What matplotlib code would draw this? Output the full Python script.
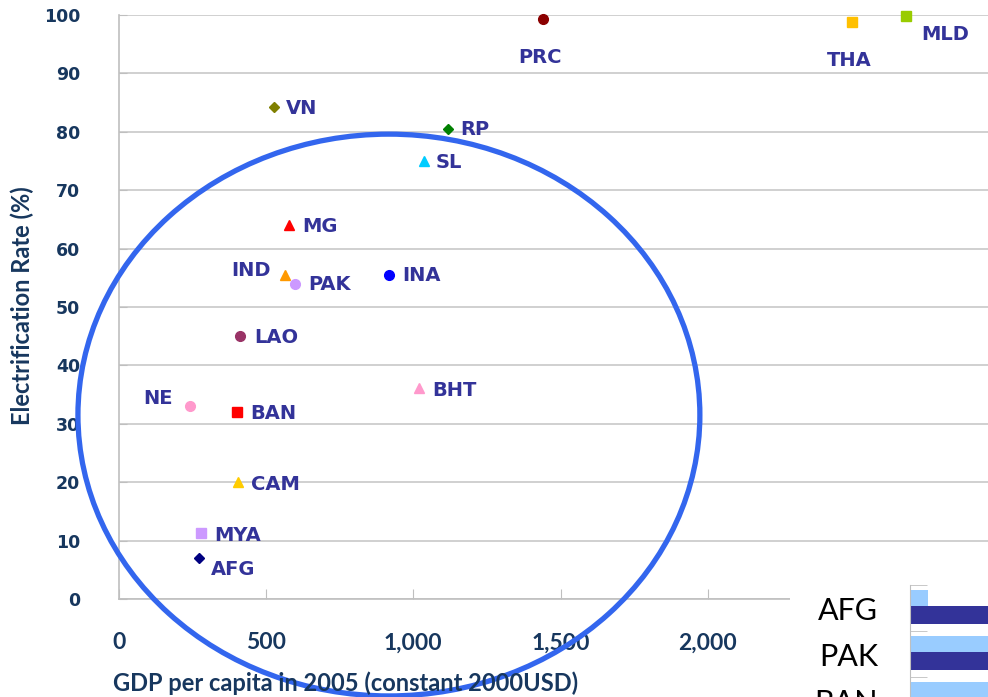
import numpy as np
import matplotlib
matplotlib.use('Agg')
import matplotlib.pyplot as plt
from matplotlib.patches import Ellipse, Rectangle

# data
countries = ['PRC', 'THA', 'MLD', 'VN', 'RP', 'SL', 'MG', 'IND', 'PAK', 'INA',
             'LAO', 'BHT', 'NE', 'BAN', 'CAM', 'MYA', 'AFG']
gdp = [1440, 2490, 2673, 526, 1117, 1036, 577, 564, 598, 917,
       411, 1019, 241, 401, 404, 279, 272]
elec = [99.3, 98.8, 99.8, 84.2, 80.5, 75.0, 64.0, 55.5, 54.0, 55.5,
        45.0, 36.1, 33.0, 32.0, 20.0, 11.3, 7.0]

xtick_vals = [0, 500, 1000, 1500, 2000]
xtick_labels = ['0', '500', '1,000', '1,500', '2,000']

inset_cats = ['AFG', 'PAK', 'BAN']
inset_light = [7, 54, 32]
inset_dark = [45, 50, 42]

# styles
markers = ['o', 's', 's', 'D', 'D', '^', '^', '^', 'o', 'o',
           'o', '^', 'o', 's', '^', 's', 'D']
colors = ['#8B0000', '#FFC000', '#99CC00', '#808000', '#008000', '#00CCFF', '#FF0000',
          '#FF9900', '#CC99FF', '#0000FF', '#993366', '#FF99CC', '#FF99CC', '#FF0000',
          '#FFCC00', '#CC99FF', '#000080']
# label offsets in pixels (dx right, dy down) and alignment
offsets = {'PRC': (-3, 38, 'center'), 'THA': (-3, 38, 'center'), 'MLD': (15, 18, 'left'),
           'VN': (12, 1, 'left'), 'RP': (12, 1, 'left'), 'SL': (12, 2, 'left'),
           'MG': (13, 1, 'left'), 'IND': (-14, -4, 'right'), 'PAK': (13, 1, 'left'),
           'INA': (13, 1, 'left'), 'LAO': (14, 1, 'left'), 'BHT': (13, 2, 'left'),
           'NE': (-17, -8, 'right'), 'BAN': (13, 1, 'left'), 'CAM': (13, 2, 'left'),
           'MYA': (13, 2, 'left'), 'AFG': (12, 11, 'left')}

W, H = 988, 697
fig = plt.figure(figsize=(W/100, H/100), dpi=100)
x0, x1, ytop, ybot = 119, 1002, 15, 599
ax = fig.add_axes([x0/W, 1-ybot/H, (x1-x0)/W, (ybot-ytop)/H])

tick_col = '#17375E'
lab_col = '#333399'
grid_col = '#C8C8C8'

for i, c in enumerate(countries):
    ms = 7 if markers[i] != 'D' else 5.5
    ax.plot(gdp[i], elec[i], marker=markers[i], color=colors[i], ms=ms,
            ls='none', zorder=4, clip_on=False)
    dx, dy, ha = offsets[c]
    ax.annotate(c, (gdp[i], elec[i]), xytext=(dx*0.72, -dy*0.72),
                textcoords='offset points', ha=ha, va='center',
                fontsize=14, fontweight='bold', color=lab_col,
                family='DejaVu Sans', zorder=5, annotation_clip=False)

ax.set_xlim(0, 3000)
ax.set_ylim(0, 100)
ax.set_yticks(np.arange(0, 101, 10))
ax.set_xticks(xtick_vals)
ax.set_xticklabels(xtick_labels)
ax.yaxis.grid(True, color=grid_col, lw=1.2)
ax.set_axisbelow(True)
for s in ['top', 'right']:
    ax.spines[s].set_visible(False)
for s in ['left', 'bottom']:
    ax.spines[s].set_color('#BFBFBF')
    ax.spines[s].set_linewidth(1.2)
ax.tick_params(axis='y', direction='in', length=6, color='#BFBFBF', pad=28,
               labelsize=12.5, labelcolor=tick_col)
ax.tick_params(axis='x', direction='in', length=7, color='#BFBFBF', pad=24,
               labelsize=16.5, labelcolor=tick_col)
for t in ax.get_yticklabels():
    t.set_fontweight('bold')
    t.set_family('DejaVu Sans')
for t in ax.get_xticklabels():
    t.set_fontweight('bold')
    t.set_family('Lato')

ell = Ellipse((917, 31.5), 2113, 96.2, fill=False, ec='#3366EE', lw=3.8,
              zorder=6, clip_on=False)
ax.add_patch(ell)

fig.text(346/W, 1-683/H, 'GDP per capita in 2005 (constant 2000USD)', ha='center',
         va='center', fontsize=17, fontweight='bold', color=tick_col, family='Lato')
fig.text(22/W, 1-306/H, 'Electrification Rate (%)', ha='center', va='center',
         rotation=90, fontsize=17, fontweight='bold', color=tick_col, family='Lato')

# piece of another chart overlapping the lower right corner
fig.add_artist(Rectangle((790/W, 0), 1, (H-572)/H, transform=fig.transFigure,
                         facecolor='white', edgecolor='none', zorder=1))
ia = fig.add_axes([910/W, 1-723/H, 257/W, 138/H])
ia.set_zorder(2)
pos = np.arange(len(inset_cats))
ia.barh(pos - 0.21, inset_light, height=0.35, color='#99CCFF')
ia.barh(pos + 0.16, inset_dark, height=0.39, color='#333399')
ia.set_xlim(0, 100)
ia.set_ylim(2.5, -0.5)
ia.set_yticks(pos)
ia.set_yticklabels(inset_cats)
ia.set_yticks([-0.5, 0.5, 1.5], minor=True)
ia.tick_params(axis='y', which='major', length=0, pad=23, labelsize=22)
ia.tick_params(axis='y', which='minor', length=12, direction='in', color='#BFBFBF')
for t in ia.get_yticklabels():
    t.set_family('Lato')
ia.set_xticks([])
for s in ['top', 'right', 'bottom']:
    ia.spines[s].set_visible(False)
ia.spines['left'].set_color('#BFBFBF')

fig.savefig('out.png', dpi=100)
